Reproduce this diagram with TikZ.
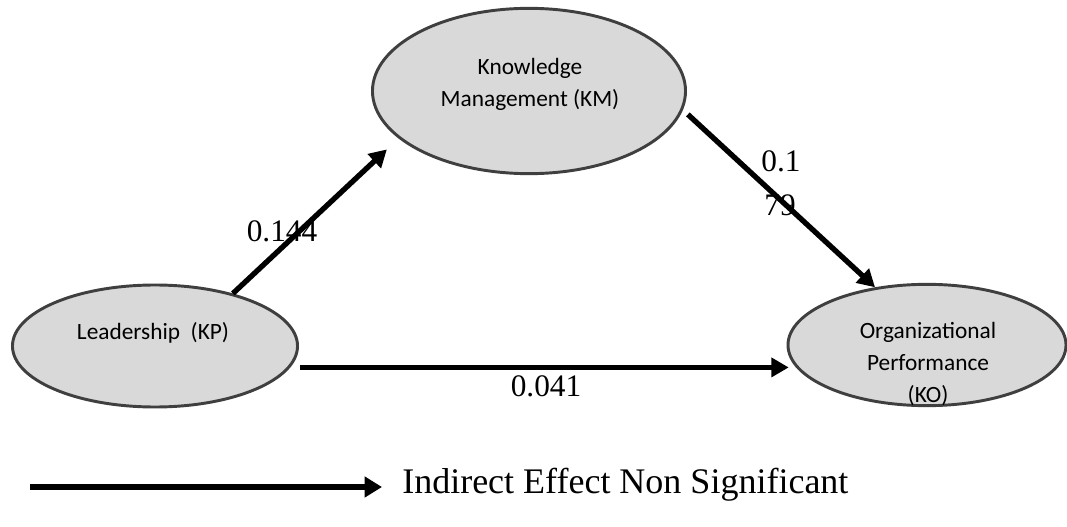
\documentclass[tikz,border=0pt]{standalone}
\usepackage{fontspec}
\setmainfont{Liberation Serif}
\newfontfamily\carlito{Carlito}
\usetikzlibrary{arrows.meta,shapes.geometric}
\definecolor{ellfill}{HTML}{D9D9D9}
\definecolor{ellborder}{HTML}{3F3F3F}
\tikzset{
  construct/.style={ellipse, draw=ellborder, fill=ellfill, line width=2.2pt, inner sep=0pt},
  ctext/.style={align=center, font=\carlito\fontsize{17.5}{24}\selectfont, inner sep=0pt},
  coef/.style={font=\fontsize{23.5}{26}\selectfont, inner sep=0pt},
  effect/.style={line width=4pt, -{Triangle[length=13pt,width=14pt]}},
}
\begin{document}
\begin{tikzpicture}[x=0.75pt,y=-0.75pt]
\useasboundingbox (0,0) rectangle (1067,527);
% constructs
\node[construct, minimum width=234.8pt, minimum height=124pt] (KM) at (529,91) {};
\node[construct, minimum width=213.8pt, minimum height=91.5pt] (KP) at (155,346) {};
\node[construct, minimum width=208.5pt, minimum height=91pt] (KO) at (927,345) {};
\node[ctext] (KMt) at (530,84) {Knowledge\\Management (KM)};
\node[ctext] (KPt) at (153,333) {Leadership\ \ (KP)};
\node[ctext] (KOt) at (928,364) {Organizational\\Performance\\(KO)};
% coefficients
\node[coef] (c1) at (282,231) {0.144};
\node[coef] (c2a) at (781,161) {0.1};
\node[coef] (c2b) at (780,205) {79};
\node[coef] (c3) at (546,386) {0.041};
% paths
\draw[effect, shorten >=12pt] (KP.34.5) -- (KM.200.4);
\draw[effect, shorten <=5pt] (KM.-7.5) -- (KO.132.4);
\draw[effect, shorten <=7pt, shorten >=4.5pt] (KP.-9.4) -- (KP.-9.4 -| KO.189.6);
% legend
\coordinate (l1) at (30,487);
\coordinate (l2) at (382,487);
\draw[line width=5pt, -{Triangle[length=13pt,width=15pt]}] (l1) -- (l2);
\node[anchor=west, font=\fontsize{27}{30}\selectfont, inner sep=0pt] (leg) at (402,485) {Indirect Effect Non Significant};
\end{tikzpicture}
\end{document}
